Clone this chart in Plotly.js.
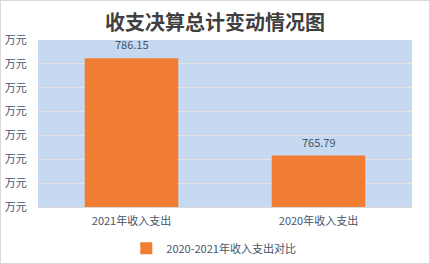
<!DOCTYPE html>
<html><head><meta charset="utf-8">
<script src="https://cdn.plot.ly/plotly-3.0.1.min.js"></script>
<style>html,body{margin:0;padding:0;background:#fff;}#wrap{width:430px;height:264px;box-sizing:border-box;border:1px solid #D9D9D9;}#chart{width:428px;height:262px;}</style>
</head><body><div id="wrap"><div id="chart"></div></div>
<script>
var categories = ["2021年收入支出", "2020年收入支出"];
var values = [786.15, 765.79];
var seriesName = "2020-2021年收入支出对比";
var yTickVals = [755, 760, 765, 770, 775, 780, 785, 790];
var yTickText = ["万元", "万元", "万元", "万元", "万元", "万元", "万元", "万元"];
var titleText = "收支决算总计变动情况图";

var font = "'Noto Sans CJK SC', 'Noto Sans', sans-serif";
var trace = {
  type: "bar", x: categories, y: values, name: seriesName,
  marker: {color: "#F07D32"}, showlegend: true, hoverinfo: "none"
};
var annotations = categories.map(function(c, i){
  return {x: c, y: values[i], text: values[i].toFixed(2), showarrow: false,
    yshift: 14, font: {family: font, size: 11, color: "#44546A"}};
});
var layout = {
  width: 428, height: 262,
  margin: {l: 37, r: 17, t: 39, b: 56, autoexpand: false},
  paper_bgcolor: "#FFFFFF", plot_bgcolor: "#C6D9F0",
  title: {text: "<b>" + titleText + "</b>", x: 0.5, xanchor: "center", y: 0.915, yanchor: "middle",
    font: {family: font, size: 20, color: "#404040"}, automargin: false},
  bargap: 0.5,
  xaxis: {automargin: false, showgrid: false, showline: true, linecolor: "#D9D9D9", linewidth: 1,
    tickfont: {family: font, size: 11, color: "#44546A"}, ticks: "outside", ticklen: 4, tickcolor: "rgba(0,0,0,0)", fixedrange: true},
  yaxis: {automargin: false, range: [755, 790], tickvals: yTickVals, ticktext: yTickText, showgrid: true, gridcolor: "#E3E3E3", gridwidth: 1,
    zeroline: false, showline: false, tickfont: {family: font, size: 11, color: "#44546A"},
    ticks: "outside", ticklen: 8, tickcolor: "rgba(0,0,0,0)", fixedrange: true},
  legend: {orientation: "h", x: 0.47, xanchor: "center", y: -0.16, yanchor: "top",
    font: {family: font, size: 11, color: "#44546A"}, itemwidth: 30},
  annotations: annotations
};
Plotly.newPlot("chart", [trace], layout, {displayModeBar: false, staticPlot: true});
</script></body></html>
